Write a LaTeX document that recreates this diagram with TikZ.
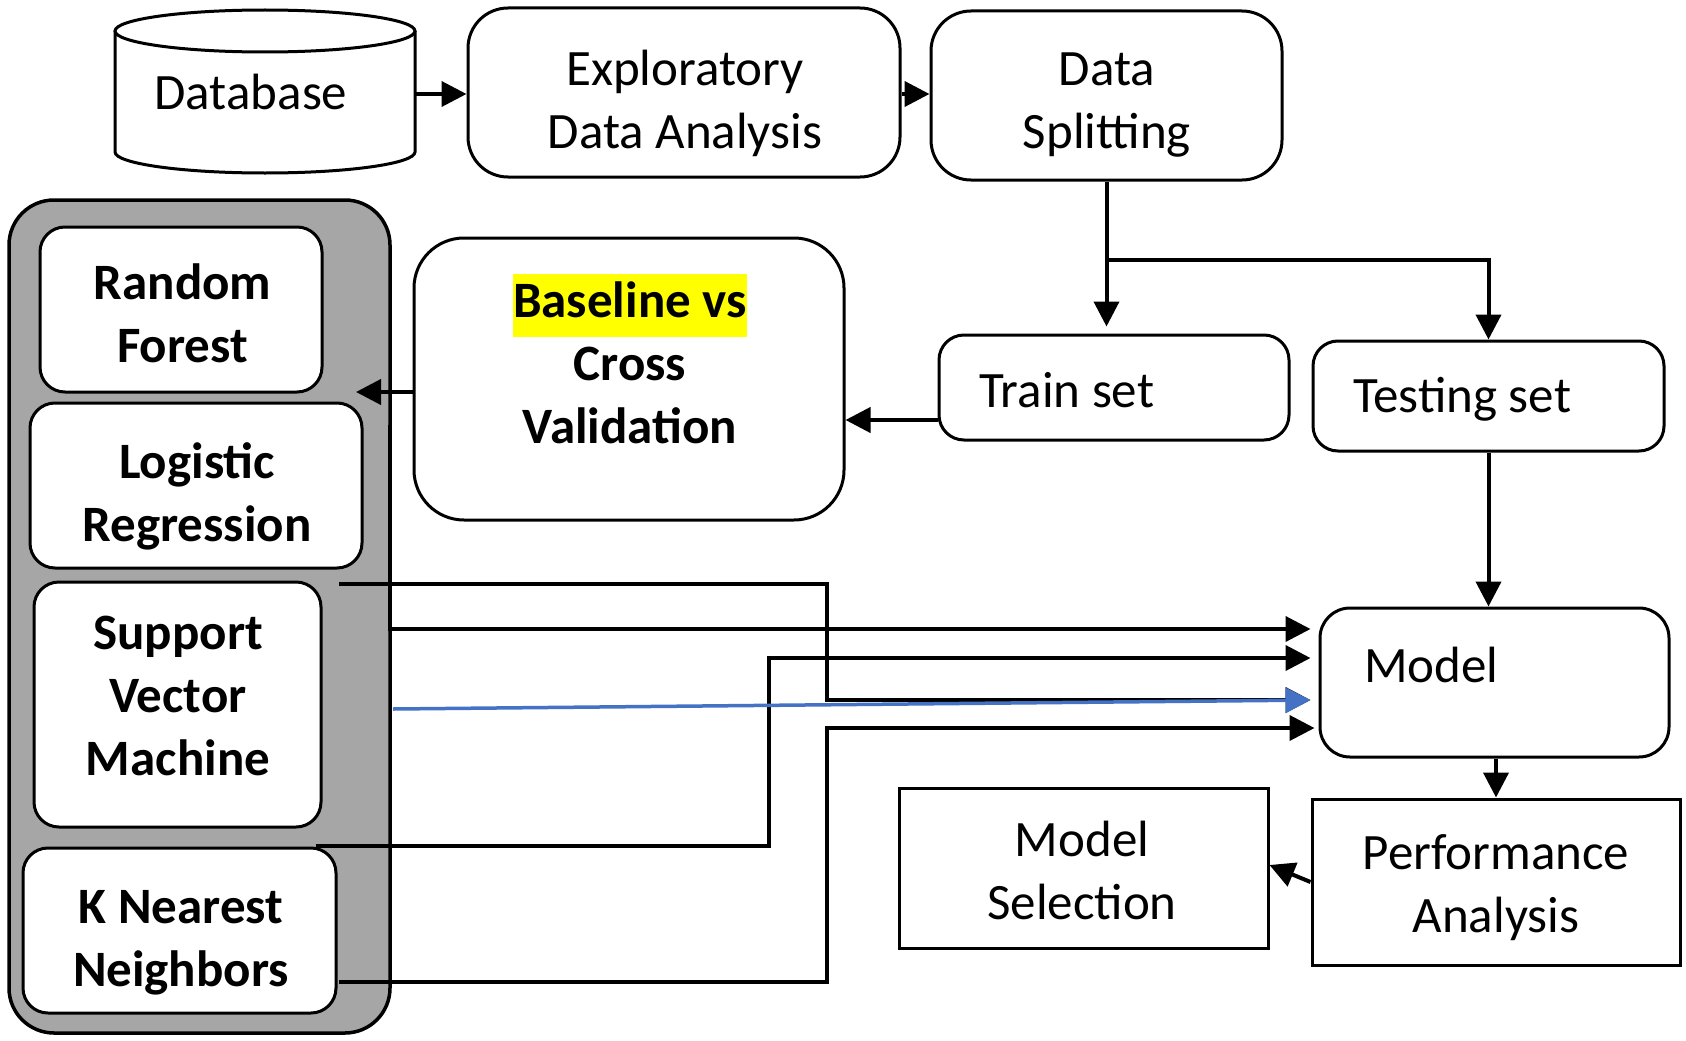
\documentclass[tikz,border=0pt]{standalone}
\usepackage{fontspec}
\setmainfont{Carlito}
\usetikzlibrary{arrows.meta}
\definecolor{grayfill}{HTML}{A6A6A6}
\definecolor{hlyellow}{HTML}{FFFF00}
\definecolor{lineblue}{HTML}{4472C4}
\setlength{\fboxsep}{0pt}
\begin{document}
\begin{tikzpicture}[x=1pt,y=-1pt,
  box/.style={draw=black, line width=3pt, fill=white, inner sep=0pt},
  rbox/.style={box, rounded corners=#1},
  txt/.style={inner sep=0pt, align=center, font=\fontsize{51}{63}\selectfont},
  btxt/.style={inner sep=0pt, align=center, font=\fontsize{51}{63}\selectfont\bfseries},
  arr/.style={line width=4pt, -{Triangle[length=25pt,width=25pt]}},
  barr/.style={line width=3.5pt, draw=lineblue, -{Triangle[length=25pt,width=25pt,fill=lineblue]}},
]
\useasboundingbox (0,0) rectangle (1686,1041);
\fill[white] (0,0) rectangle (1686,1041);

% database cylinder
\draw[line width=3pt, fill=white] (115,31) -- (115,152)
  arc[start angle=180, end angle=360, x radius=150pt, y radius=21pt] -- (415,31);
\draw[line width=3pt, fill=white] (265,31) ellipse[x radius=150pt, y radius=21pt];
\node[inner sep=0pt, minimum width=300pt, minimum height=160pt] (db) at (265,94) {};
\node[txt] (dbt) at (251,97) {\strut Database};

\node[rbox=40pt, minimum width=432pt, minimum height=169pt] (eda) at (684,92.5) {};
\node[txt] (edat) at (685,104) {\strut Exploratory\\\strut Data Analysis};

\node[rbox=40pt, minimum width=351pt, minimum height=169pt] (ds) at (1106.5,95.5) {};
\node[txt] (dst) at (1107,104) {\strut Data\\\strut Splitting};

\node[rbox=25pt, minimum width=350pt, minimum height=105pt] (train) at (1114,387.5) {};
\node[txt, anchor=west] (traint) at (979,394.5) {\strut Train set};

\node[rbox=25pt, minimum width=351pt, minimum height=110pt] (test) at (1488.5,396) {};
\node[txt, anchor=west] (testt) at (1353,399.5) {\strut Testing set};

\node[rbox=50pt, minimum width=430pt, minimum height=282pt] (bl) at (629,379) {};
\node[btxt] (blt) at (630,368) {\colorbox{hlyellow}{\strut Baseline vs}\\\strut Cross\\\strut Validation};

% algorithm group
\node[draw=black, line width=3.5pt, fill=grayfill, rounded corners=45pt, inner sep=0pt,
  minimum width=381pt, minimum height=833pt] (grp) at (199.5,616.5) {};
\node[rbox=25pt, minimum width=282pt, minimum height=165pt] (rf) at (181,309.5) {};
\node[btxt] (rft) at (182.5,318.5) {\strut Random\\\strut Forest};
\node[rbox=25pt, minimum width=332pt, minimum height=165pt] (lr) at (196,485.5) {};
\node[btxt] (lrt) at (197,497.5) {\strut Logistic\\\strut Regression};
\node[rbox=25pt, minimum width=287pt, minimum height=245pt] (svm) at (177.5,704.5) {};
\node[btxt] (svmt) at (178,700) {\strut Support\\\strut Vector\\\strut Machine};
\node[rbox=25pt, minimum width=313pt, minimum height=165pt] (knn) at (179.5,930.5) {};
\node[btxt] (knnt) at (181,942) {\strut K Nearest\\\strut Neighbors};

\node[rbox=30pt, minimum width=349pt, minimum height=149pt] (model) at (1494.5,682.5) {};
\node[txt, anchor=west] (modelt) at (1364,669.5) {\strut Model};

\node[box, minimum width=368pt, minimum height=166pt] (perf) at (1496,882) {};
\node[txt] (perft) at (1496,888.5) {\strut Performance\\\strut Analysis};

\node[box, minimum width=369pt, minimum height=160pt] (ms) at (1083.5,868) {};
\node[txt] (mst) at (1082,875) {\strut Model\\\strut Selection};

% connectors
\draw[arr] (db.east) -- (eda.west |- db.east);
\draw[arr] (eda.east |- db.east) -- (ds.west |- db.east);
\draw[arr, shorten >=7pt] (ds.south) -- (ds.south |- train.north);
\coordinate (br) at (1106.5,260);
\draw[arr] (br) -| (test.north);
\draw[arr] (train.west |- 0,420) -- (bl.east |- 0,420);
\coordinate (rfin) at (356,392);
\draw[arr] (bl.west |- rfin) -- (rfin);

\coordinate (bS) at (390,425);
\draw[arr, shorten >=8pt] (bS) |- (model.west |- 0,629);
\coordinate (cS) at (316,846);
\draw[arr, shorten >=8pt] (cS) -| (769,658) -- (model.west |- 0,658);
\coordinate (aS) at (339,584);
\draw[arr, shorten >=8pt] (aS) -| (827,700) -- (model.west |- 0,700);
\coordinate (dS) at (339,982);
\draw[arr, shorten >=4pt] (dS) -| (827,728) -- (model.west |- 0,728);
\coordinate (blS) at (393,709);
\draw[barr, shorten >=8pt] (blS) -- (model.west |- 0,700);

\draw[arr] (test.south) -- (test.south |- model.north);
\draw[arr] (model.south -| perf.north) -- (perf.north);
\draw[arr] (perf.west) -- ([yshift=3pt]ms.east);
\end{tikzpicture}
\end{document}
